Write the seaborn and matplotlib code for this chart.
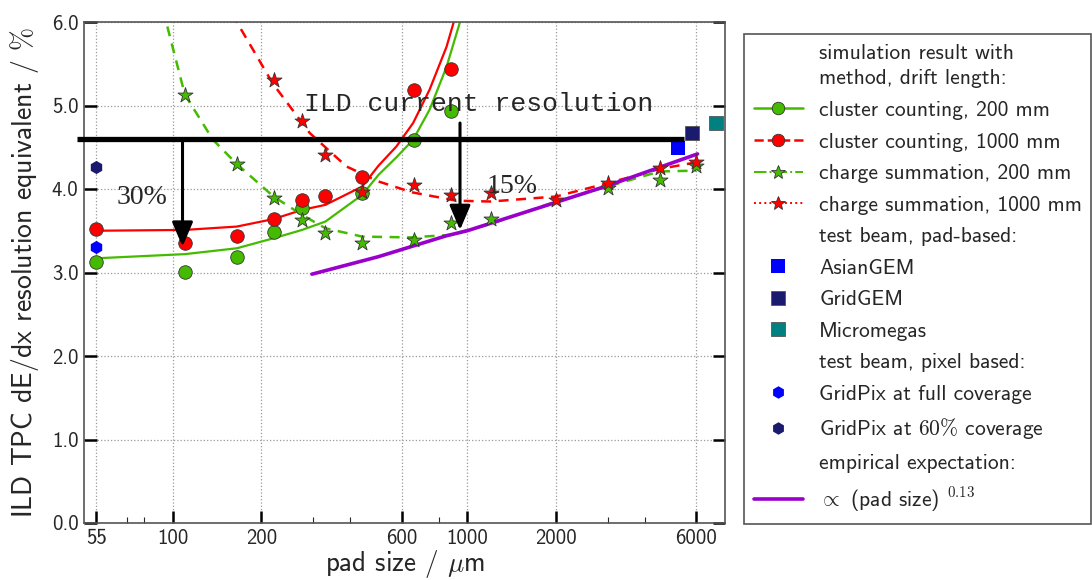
import matplotlib
matplotlib.use("Agg")
import matplotlib.pyplot as plt
from matplotlib.lines import Line2D
from matplotlib.ticker import FixedLocator, NullFormatter
import seaborn as sns

# ---- simulated dE/dx resolution (%) versus pad size (um) ----
cc200_pad = [55, 110, 165, 220, 275, 440, 660, 880]
cc200_res = [3.12, 3.01, 3.19, 3.49, 3.77, 3.95, 4.59, 4.93]
cc1000_pad = [55, 110, 165, 220, 275, 330, 440, 660, 880]
cc1000_res = [3.52, 3.35, 3.44, 3.64, 3.87, 3.92, 4.14, 5.18, 5.44]
cs200_pad = [110, 165, 220, 275, 330, 440, 660, 880, 1200, 3000, 4500, 6000]
cs200_res = [5.13, 4.30, 3.89, 3.63, 3.47, 3.35, 3.39, 3.59, 3.64, 4.01, 4.11, 4.28]
cs1000_pad = [220, 275, 330, 440, 660, 880, 1200, 2000, 3000, 4500, 6000]
cs1000_res = [5.31, 4.81, 4.41, 3.97, 4.05, 3.93, 3.95, 3.87, 4.07, 4.25, 4.32]

# ---- smooth fits through the simulated points ----
cc200_fit_pad = [55, 110, 165, 220, 275, 330, 440, 500, 575, 655, 745, 850, 945, 970]
cc200_fit_res = [3.17, 3.22, 3.29, 3.41, 3.51, 3.61, 3.93, 4.17, 4.38, 4.59, 4.95, 5.46, 6.0, 6.15]
cc1000_fit_pad = [55, 110, 165, 220, 275, 330, 440, 500, 575, 655, 745, 850, 900, 920]
cc1000_fit_res = [3.50, 3.51, 3.55, 3.64, 3.75, 3.81, 4.03, 4.28, 4.51, 4.79, 5.19, 5.70, 6.0, 6.15]
cs200_fit_pad = [93, 96, 110, 137, 165, 220, 275, 330, 440, 640, 870, 1200, 2000, 3000, 4500, 6000]
cs200_fit_res = [6.15, 5.94, 5.13, 4.59, 4.30, 3.91, 3.69, 3.53, 3.43, 3.42, 3.45, 3.58, 3.85, 4.03, 4.21, 4.22]
cs1000_fit_pad = [160, 165, 188, 218, 292, 389, 500, 650, 920, 1200, 2000, 3000, 4500, 6000]
cs1000_fit_res = [6.10, 6.0, 5.66, 5.27, 4.67, 4.27, 4.09, 3.96, 3.86, 3.85, 3.91, 4.07, 4.24, 4.32]

# ---- empirical expectation, proportional to (pad size)^0.13 ----
empirical_pad = [297, 500, 850, 1000, 2000, 3000, 4500, 6050]
empirical_res = [2.98, 3.19, 3.44, 3.50, 3.84, 4.04, 4.26, 4.42]

# ---- test beam measurements ----
asiangem_pad, asiangem_res = [5200], [4.49]
gridgem_pad, gridgem_res = [5800], [4.67]
micromegas_pad, micromegas_res = [7000], [4.79]
gridpix_full_pad, gridpix_full_res = [55], [3.30]
gridpix_60_pad, gridpix_60_res = [55], [4.26]

# ---- reference resolution and improvement arrows ----
ild_resolution = 4.6
ild_line_span = [47.5, 5450]
arrow_30_pad, arrow_30_tip = 108, 3.31
arrow_15_pad, arrow_15_start, arrow_15_tip = 945, 4.79, 3.51

# ---- axis ticks ----
x_ticks = [55, 100, 200, 600, 1000, 2000, 6000]
x_tick_labels = ["55", "100", "200", "600", "1000", "2000", "6000"]
x_minor_ticks = [70, 80, 300, 400, 800, 3000, 4000]
y_ticks = [0.0, 1.0, 2.0, 3.0, 4.0, 5.0, 6.0]
y_tick_labels = ["0.0", "1.0", "2.0", "3.0", "4.0", "5.0", "6.0"]

GREEN = "#44bb00"
RED = "#ff0000"
PURPLE = "#9900cc"
BLUE = "#0000ff"
NAVY = "#1a1a6e"
TEAL = "#008080"
EDGE = "#333333"

sns.set_style("ticks")
plt.rcParams["font.family"] = ["cmss10", "DejaVu Sans"]
plt.rcParams["mathtext.fontset"] = "cm"
plt.rcParams["axes.formatter.use_mathtext"] = True
plt.rcParams["axes.unicode_minus"] = False

fig = plt.figure(figsize=(10.92, 5.8), dpi=100)
ax = fig.add_axes([84 / 1092, 57 / 580, 641 / 1092, 501 / 580])
ax.set_xscale("log")

# fitted curves
sns.lineplot(x=cc200_fit_pad, y=cc200_fit_res, ax=ax, color=GREEN, lw=1.6,
             sort=False, estimator=None, zorder=2)
sns.lineplot(x=cc1000_fit_pad, y=cc1000_fit_res, ax=ax, color=RED, lw=1.6,
             sort=False, estimator=None, zorder=2)
sns.lineplot(x=cs200_fit_pad, y=cs200_fit_res, ax=ax, color=GREEN, lw=1.8,
             linestyle=(0, (4, 3)), sort=False, estimator=None, zorder=2)
sns.lineplot(x=cs1000_fit_pad, y=cs1000_fit_res, ax=ax, color=RED, lw=1.8,
             linestyle=(0, (4, 3)), sort=False, estimator=None, zorder=2)
sns.lineplot(x=empirical_pad, y=empirical_res, ax=ax, color=PURPLE, lw=2.6,
             sort=False, estimator=None, zorder=3)

# simulated points
sns.scatterplot(x=cc200_pad, y=cc200_res, ax=ax, marker="o", s=95, color=GREEN,
                edgecolor=EDGE, linewidth=0.6, zorder=4)
sns.scatterplot(x=cc1000_pad, y=cc1000_res, ax=ax, marker="o", s=95, color=RED,
                edgecolor=EDGE, linewidth=0.6, zorder=4)
sns.scatterplot(x=cs200_pad, y=cs200_res, ax=ax, marker="*", s=130, color=GREEN,
                edgecolor=EDGE, linewidth=0.6, zorder=5)
sns.scatterplot(x=cs1000_pad, y=cs1000_res, ax=ax, marker="*", s=130, color=RED,
                edgecolor=EDGE, linewidth=0.6, zorder=5)

# test beam results
sns.scatterplot(x=asiangem_pad, y=asiangem_res, ax=ax, marker="s", s=110, color=BLUE,
                edgecolor=BLUE, linewidth=0, zorder=5)
sns.scatterplot(x=gridgem_pad, y=gridgem_res, ax=ax, marker="s", s=110, color=NAVY,
                edgecolor="#555555", linewidth=0.6, zorder=5)
sns.scatterplot(x=micromegas_pad, y=micromegas_res, ax=ax, marker="s", s=110, color=TEAL,
                edgecolor="#555555", linewidth=0.6, zorder=5)
sns.scatterplot(x=gridpix_full_pad, y=gridpix_full_res, ax=ax, marker="h", s=90, color=BLUE,
                edgecolor=BLUE, linewidth=0, zorder=5, clip_on=False)
sns.scatterplot(x=gridpix_60_pad, y=gridpix_60_res, ax=ax, marker="h", s=90, color=NAVY,
                edgecolor=NAVY, linewidth=0, zorder=5, clip_on=False)

# current ILD resolution and the required improvements
ax.plot(ild_line_span, [ild_resolution, ild_resolution], color="black", lw=3.8,
        solid_capstyle="butt", clip_on=False, zorder=6)
arrow_kw = dict(arrowstyle="-|>,head_width=0.32,head_length=0.75", color="black",
                lw=2.2, shrinkA=0, shrinkB=0, mutation_scale=20)
ax.annotate("", xy=(arrow_30_pad, arrow_30_tip), xytext=(arrow_30_pad, ild_resolution),
            arrowprops=arrow_kw, zorder=7)
ax.annotate("", xy=(arrow_15_pad, arrow_15_tip), xytext=(arrow_15_pad, arrow_15_start),
            arrowprops=arrow_kw, zorder=7)
ax.text(279, 4.93, "ILD current resolution", family="Liberation Mono", fontsize=19,
        ha="left", va="baseline", zorder=7)
ax.text(64.6, 3.82, "30%", family="Liberation Serif", fontsize=20,
        ha="left", va="baseline", zorder=7)
ax.text(1160, 3.95, "15%", family="Liberation Serif", fontsize=20,
        ha="left", va="baseline", zorder=7)

# axes
ax.set_xlim(50, 7500)
ax.set_ylim(0, 6)
ax.xaxis.set_major_locator(FixedLocator(x_ticks))
ax.set_xticklabels(x_tick_labels)
ax.xaxis.set_minor_locator(FixedLocator(x_minor_ticks))
ax.xaxis.set_minor_formatter(NullFormatter())
ax.set_yticks(y_ticks)
ax.set_yticklabels(y_tick_labels)
ax.tick_params(axis="both", which="major", direction="in", length=9, width=1.8,
               labelsize=15, pad=4, color="black")
ax.tick_params(axis="y", which="both", left=True, right=True)
ax.tick_params(axis="x", which="both", top=False, bottom=True)
ax.tick_params(axis="x", which="minor", direction="in", length=4, width=0.8)
ax.grid(True, which="major", ls=":", color="#999999", lw=0.9)
for sp in ax.spines.values():
    sp.set_visible(True)
    sp.set_color("#555555")
    sp.set_linewidth(1.2)
ax.set_xlabel(r"pad size / $\mu$m", fontsize=19.5, labelpad=0.5)
ax.set_ylabel(r"ILD TPC dE/dx resolution equivalent / $\%$", fontsize=20, labelpad=8)

# legend
blank = dict(linestyle="none", marker=None)
handles = [
    Line2D([], [], **blank),
    Line2D([], [], color=GREEN, lw=1.8, ls="-", marker="o", ms=9,
           markerfacecolor=GREEN, markeredgecolor=EDGE, markeredgewidth=0.6),
    Line2D([], [], color=RED, lw=1.8, ls="--", marker="o", ms=9,
           markerfacecolor=RED, markeredgecolor=EDGE, markeredgewidth=0.6),
    Line2D([], [], color=GREEN, lw=1.4, ls="-.", marker="*", ms=10,
           markerfacecolor=GREEN, markeredgecolor=EDGE, markeredgewidth=0.6),
    Line2D([], [], color=RED, lw=1.4, ls=":", marker="*", ms=10,
           markerfacecolor=RED, markeredgecolor=EDGE, markeredgewidth=0.6),
    Line2D([], [], **blank),
    Line2D([], [], ls="none", marker="s", ms=10, color=BLUE, markeredgewidth=0),
    Line2D([], [], ls="none", marker="s", ms=10, color=NAVY, markeredgecolor="#555555",
           markeredgewidth=0.6),
    Line2D([], [], ls="none", marker="s", ms=10, color=TEAL, markeredgecolor="#555555",
           markeredgewidth=0.6),
    Line2D([], [], **blank),
    Line2D([], [], ls="none", marker="h", ms=9, color=BLUE, markeredgewidth=0),
    Line2D([], [], ls="none", marker="h", ms=9, color=NAVY, markeredgewidth=0),
    Line2D([], [], **blank),
    Line2D([], [], color=PURPLE, lw=2.6),
]
labels = [
    "simulation result with\nmethod, drift length:",
    "cluster counting, 200 mm",
    "cluster counting, 1000 mm",
    "charge summation, 200 mm",
    "charge summation, 1000 mm",
    "test beam, pad-based:",
    "AsianGEM",
    "GridGEM",
    "Micromegas",
    "test beam, pixel based:",
    "GridPix at full coverage",
    r"GridPix at $60\%$ coverage",
    "empirical expectation:",
    r"$\propto$ (pad size) $^{0.13}$",
]
leg = fig.legend(handles, labels, loc="upper left",
                 bbox_to_anchor=(744 / 1092, 1 - 34 / 580, 347 / 1092, 0.0),
                 mode="expand", borderaxespad=0, fontsize=15.5, frameon=True,
                 fancybox=False, edgecolor="#555555", framealpha=1,
                 handlelength=2.3, handletextpad=0.75, borderpad=0.45,
                 labelspacing=0.58)
leg.get_texts()[0].set_linespacing(1.45)
leg.get_frame().set_linewidth(1.2)

fig.savefig("out.png", dpi=100)
